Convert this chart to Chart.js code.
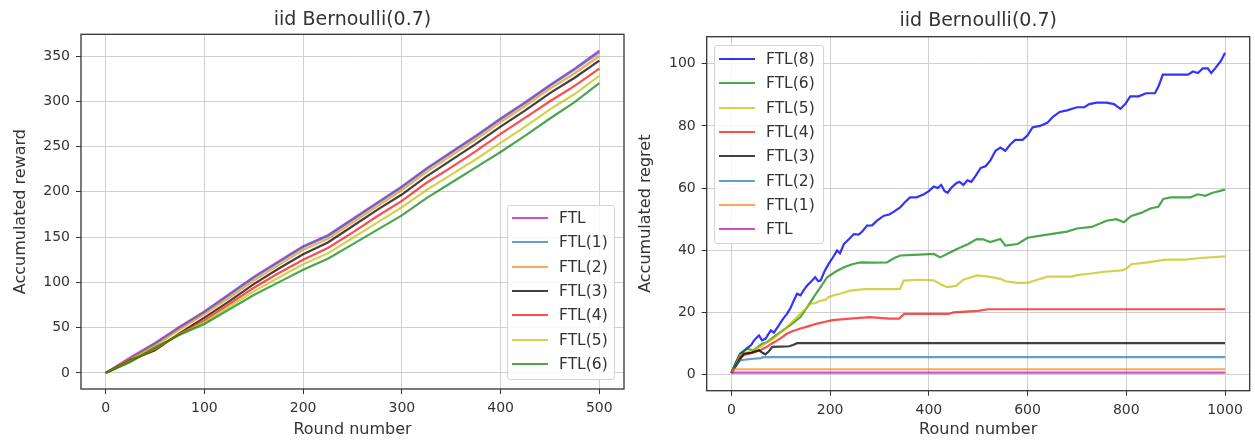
<!DOCTYPE html>
<html>
<head>
<meta charset="utf-8">
<script src="https://cdn.jsdelivr.net/npm/chart.js@4.4.0/dist/chart.umd.min.js"></script>
<style>
  body { margin: 0; background: #fff; font-family: "DejaVu Sans", sans-serif; }
  #wrap { position: relative; width: 1255px; height: 441px; overflow: hidden; }
  #wrap canvas { position: absolute; top: 0; }
  .legenda {
    position: absolute; box-sizing: border-box;
    border: 1px solid #d4d4d4; border-radius: 3px;
    background: rgba(255, 255, 255, 0.85);
    color: #333; font-size: 15.5px;
  }
  .legenda div { position: absolute; left: 4px; height: 24px; display: flex; align-items: center; white-space: nowrap; }
  .legenda .linha { display: inline-block; width: 36px; height: 2px; margin-right: 11px; }
</style>
</head>
<body>
<div id="wrap">
  <canvas id="graficoRecompensa" width="630" height="441" style="left:0"></canvas>
  <canvas id="graficoArrependimento" width="625" height="441" style="left:630px"></canvas>
  <div class="legenda" id="legendaRecompensa" style="left:507px; top:205px; width:108px; height:175px;"></div>
  <div class="legenda" id="legendaArrependimento" style="left:714px; top:45px; width:110px; height:199px;"></div>
</div>
<script>
// Painel esquerdo: recompensa acumulada (rodadas a cada 25)
const rodadas = [0, 25, 50, 75, 100, 125, 150, 175, 200, 225, 250, 275, 300, 325, 350, 375, 400, 425, 450, 475, 500];
const recFTL  = [0, 17, 33, 51, 68, 87, 106, 123, 140, 152, 170, 188, 206, 226, 244, 262, 281, 299, 318, 336, 356];
const recFTL1 = [0, 16, 32, 50, 67, 86, 105, 122, 139, 151, 169, 187, 205, 225, 243, 261, 280, 298, 317, 335, 354];
const recFTL2 = [0, 15, 30, 48, 65, 83, 102, 119, 136, 148, 166, 184, 202, 222, 240, 258, 277, 295, 314, 331, 350];
const recFTL3 = [0, 14, 25, 44, 61, 79, 98, 115, 131, 144, 162, 180, 197, 217, 235, 253, 272, 290, 309, 326, 345];
const recFTL4 = [0, 13, 26, 43, 58, 76, 94, 110, 125, 138, 155, 173, 190, 210, 227, 245, 264, 282, 300, 317, 336];
const recFTL5 = [0, 13, 27, 43, 56, 73, 90, 105, 120, 132, 149, 166, 183, 202, 219, 236, 254, 272, 291, 308, 328];
const recFTL6 = [0, 12, 28, 42, 54, 70, 86, 100, 114, 126, 142, 158, 174, 193, 210, 227, 244, 262, 281, 299, 320];

// Painel direito: arrependimento acumulado, pares [rodada, valor]
const arrFTL8 = [[0,0.5],[8,3.5],[18,6.7],[25,7.5],[32,8.5],[40,9.5],[46,11],[52,12],[56,12.6],[62,11],[69,11.5],[75,13],[80,14.2],[86,13.5],[96,15.8],[105,18],[113,19.6],[120,21.5],[127,24],[133,26],[140,25.5],[148,27.5],[154,28.7],[162,30],[170,31.3],[176,30],[181,30.3],[188,33],[197,35.6],[205,37.5],[214,39.9],[220,39],[228,42],[238,43.5],[248,45.2],[258,45],[265,46],[275,47.9],[285,48],[295,49.5],[309,51.1],[320,51.5],[330,52.5],[342,53.8],[352,55.5],[362,57],[375,57],[390,58],[400,59],[410,60.5],[418,60],[425,61],[432,59],[438,58.5],[445,60],[455,61.5],[462,62],[470,61],[478,62.5],[486,62],[495,64],[505,66.5],[515,67],[525,69],[535,72],[545,73],[555,72],[565,74],[575,75.5],[590,75.5],[600,77],[610,79.5],[625,80],[640,81],[652,83],[665,84.5],[680,85],[700,86],[715,86],[725,87],[740,87.5],[760,87.5],[775,87],[788,85.5],[798,87],[808,89.5],[825,89.5],[840,90.5],[858,90.5],[866,93],[874,96.5],[900,96.5],[925,96.5],[935,97.5],[945,97],[955,98.5],[965,98.5],[972,97],[980,98.5],[992,101],[1000,103.5]];
const arrFTL6 = [[0,0.5],[10,4],[18,6.7],[31,8.3],[45,7.8],[62,9.9],[72,10.4],[85,12],[100,13.7],[120,16],[140,18.5],[155,22],[167,25],[180,28],[194,31.3],[210,33],[228,34.5],[245,35.5],[261,36.1],[290,36],[315,36.1],[330,37.5],[342,38.3],[370,38.5],[410,38.8],[423,37.7],[440,39],[457,40.4],[480,42],[497,43.6],[510,43.5],[524,42.6],[545,43.6],[555,41.5],[580,42],[600,44],[640,45],[680,46],[700,47],[730,47.5],[760,49.5],[780,50],[795,49],[810,51],[830,52],[850,53.5],[865,54],[875,56.5],[890,57],[930,57],[945,58],[960,57.5],[975,58.5],[1000,59.5]];
const arrFTL5 = [[0,0.5],[10,3.5],[18,6.2],[30,7],[45,8],[60,9],[72,10.4],[85,11.5],[95,13],[106,14.2],[120,16.5],[130,18],[140,19.6],[150,21],[160,22.8],[170,23],[181,23.8],[190,24],[197,24.9],[207,25.5],[220,26],[241,27],[270,27.5],[300,27.5],[330,27.5],[342,27.6],[349,30.2],[380,30.5],[410,30.3],[425,29],[437,28.1],[455,28.5],[470,30.5],[497,31.9],[520,31.5],[545,30.8],[555,30],[580,29.5],[600,29.5],[620,30.5],[640,31.5],[690,31.5],[700,32],[730,32.5],[750,33],[790,33.5],[800,34],[810,35.5],[840,36],[860,36.5],[880,37],[920,37],[950,37.5],[1000,38]];
const arrFTL4 = [[0,0.5],[10,3],[18,5.6],[30,6.5],[49,7.3],[60,8],[72,8.9],[82,10],[93,11],[103,12],[113,13.2],[125,14],[140,14.8],[155,15.5],[174,16.4],[190,17],[205,17.5],[240,18],[280,18.5],[320,18],[340,18],[350,19.5],[440,19.5],[450,20],[500,20.5],[520,21],[1000,21]];
const arrFTL3 = [[0,0.5],[10,3],[18,5],[25,6.7],[40,7],[56,7.8],[63,7],[69,6.5],[76,7.5],[83,8.9],[100,9],[117,9.1],[125,9.5],[133,10.1],[1000,10.1]];
const arrFTL2 = [[0,0.5],[8,2.5],[18,4.6],[40,5],[60,5.3],[65,5.6],[1000,5.6]];
const arrFTL1 = [[0,0.5],[5,1.7],[1000,1.7]];
const arrFTL  = [[0,0.6],[1000,0.6]];

// Eixos
const ticksRecX = [0, 100, 200, 300, 400, 500];
const ticksRecY = [0, 50, 100, 150, 200, 250, 300, 350];
const ticksArrX = [0, 200, 400, 600, 800, 1000];
const ticksArrY = [0, 20, 40, 60, 80, 100];

// cores do matplotlib com alpha
const magenta = 'rgba(191, 0, 191, 0.7)';
const azulAco = 'rgba(31, 119, 180, 0.7)';
const laranja = 'rgba(255, 127, 14, 0.7)';
const preto = 'rgba(0, 0, 0, 0.75)';
const vermelho = 'rgba(255, 0, 0, 0.7)';
const amarelo = 'rgba(191, 191, 0, 0.7)';
const verde = 'rgba(0, 128, 0, 0.7)';
const azul = 'rgba(0, 0, 255, 0.8)';

const corTexto = '#333';
const fonte = "'DejaVu Sans', sans-serif";

// moldura completa da área do gráfico (como os spines do matplotlib)
const moldura = {
  id: 'moldura',
  afterDatasetsDraw(chart) {
    const { ctx, chartArea: a } = chart;
    ctx.save();
    ctx.strokeStyle = '#333';
    ctx.lineWidth = 1.3;
    ctx.strokeRect(a.left, a.top, a.right - a.left, a.bottom - a.top);
    ctx.restore();
  }
};

function montarDatasets(series) {
  const n = series.length;
  return series.map((s, i) => ({
    label: s.nome,
    data: s.pontos,
    borderColor: s.cor,
    backgroundColor: s.cor,
    borderWidth: 2.2,
    pointRadius: 0,
    tension: 0,
    fill: false,
    order: n - i
  }));
}

function eixo(min, max, ticks, titulo, cfg) {
  return {
    type: 'linear',
    min, max,
    afterBuildTicks: (scale) => { scale.ticks = ticks.map(v => ({ value: v })); },
    afterFit: cfg.afterFit,
    border: { display: false },
    grid: { color: '#cfcfcf', lineWidth: 1, tickColor: '#333', tickLength: 5, tickWidth: 1 },
    ticks: { color: corTexto, font: { family: fonte, size: 14 }, padding: cfg.pad, maxRotation: 0, autoSkip: false,
             callback: (v) => String(v) },
    title: { display: true, text: titulo, color: corTexto, font: { family: fonte, size: 16 }, padding: cfg.tituloPad }
  };
}

function criarGrafico(id, datasets, o) {
  return new Chart(document.getElementById(id), {
    type: 'line',
    data: { datasets },
    options: {
      responsive: false,
      animation: false,
      layout: { padding: { left: 0, right: o.dir, top: 0, bottom: 0 } },
      plugins: {
        legend: { display: false },
        tooltip: { enabled: false },
        title: {
          display: true, text: 'iid Bernoulli(0.7)', color: corTexto, fullSize: false,
          font: { family: fonte, size: 19, weight: 'normal' },
          padding: { top: o.tituloTop, bottom: o.tituloBottom }
        }
      },
      scales: {
        x: eixo(o.xMin, o.xMax, o.ticksX, 'Round number',
          { pad: 6, tituloPad: { top: 0, bottom: 1.4 }, afterFit: (s) => { s.height = o.alturaX; } }),
        y: eixo(o.yMin, o.yMax, o.ticksY, o.tituloY,
          { pad: 6, tituloPad: { top: o.tituloYPad, bottom: 0 }, afterFit: (s) => { s.width = o.larguraY; } })
      }
    },
    plugins: [moldura]
  });
}

// legenda dentro do gráfico, com linhas em posições inteiras
function montarLegenda(id, series, topo) {
  const el = document.getElementById(id);
  series.forEach((s, i) => {
    const linha = document.createElement('div');
    linha.style.top = Math.round(topo + i * 24.33) + 'px';
    linha.innerHTML = `<span class="linha" style="background:${s.cor}"></span><span>${s.nome}</span>`;
    el.appendChild(linha);
  });
}

// esquerdo
const seriesRec = [
  { nome: 'FTL', cor: magenta, valores: recFTL },
  { nome: 'FTL(1)', cor: azulAco, valores: recFTL1 },
  { nome: 'FTL(2)', cor: laranja, valores: recFTL2 },
  { nome: 'FTL(3)', cor: preto, valores: recFTL3 },
  { nome: 'FTL(4)', cor: vermelho, valores: recFTL4 },
  { nome: 'FTL(5)', cor: amarelo, valores: recFTL5 },
  { nome: 'FTL(6)', cor: verde, valores: recFTL6 }
].map(s => ({ nome: s.nome, cor: s.cor, pontos: s.valores.map((v, i) => ({ x: rodadas[i], y: v })) }));

criarGrafico('graficoRecompensa', montarDatasets(seriesRec), {
  dir: 6, tituloTop: 8.6, tituloBottom: 2.9, alturaX: 52, larguraY: 81, tituloYPad: 11.1,
  xMin: -25, xMax: 525, yMin: -17.8, yMax: 374, ticksX: ticksRecX, ticksY: ticksRecY,
  tituloY: 'Accumulated reward'
});
montarLegenda('legendaRecompensa', seriesRec, 0);

// direito
const seriesArr = [
  { nome: 'FTL(8)', cor: azul, pares: arrFTL8 },
  { nome: 'FTL(6)', cor: verde, pares: arrFTL6 },
  { nome: 'FTL(5)', cor: amarelo, pares: arrFTL5 },
  { nome: 'FTL(4)', cor: vermelho, pares: arrFTL4 },
  { nome: 'FTL(3)', cor: preto, pares: arrFTL3 },
  { nome: 'FTL(2)', cor: azulAco, pares: arrFTL2 },
  { nome: 'FTL(1)', cor: laranja, pares: arrFTL1 },
  { nome: 'FTL', cor: magenta, pares: arrFTL }
].map(s => ({ nome: s.nome, cor: s.cor, pontos: s.pares.map(p => ({ x: p[0], y: p[1] })) }));

criarGrafico('graficoArrependimento', montarDatasets(seriesArr), {
  dir: 5.3, tituloTop: 9.3, tituloBottom: 4.6, alturaX: 50.3, larguraY: 76.7, tituloYPad: 6.1,
  xMin: -50, xMax: 1050, yMin: -5.2, yMax: 108.7, ticksX: ticksArrX, ticksY: ticksArrY,
  tituloY: 'Accumulated regret'
});
montarLegenda('legendaArrependimento', seriesArr, 1);
</script>
</body>
</html>
